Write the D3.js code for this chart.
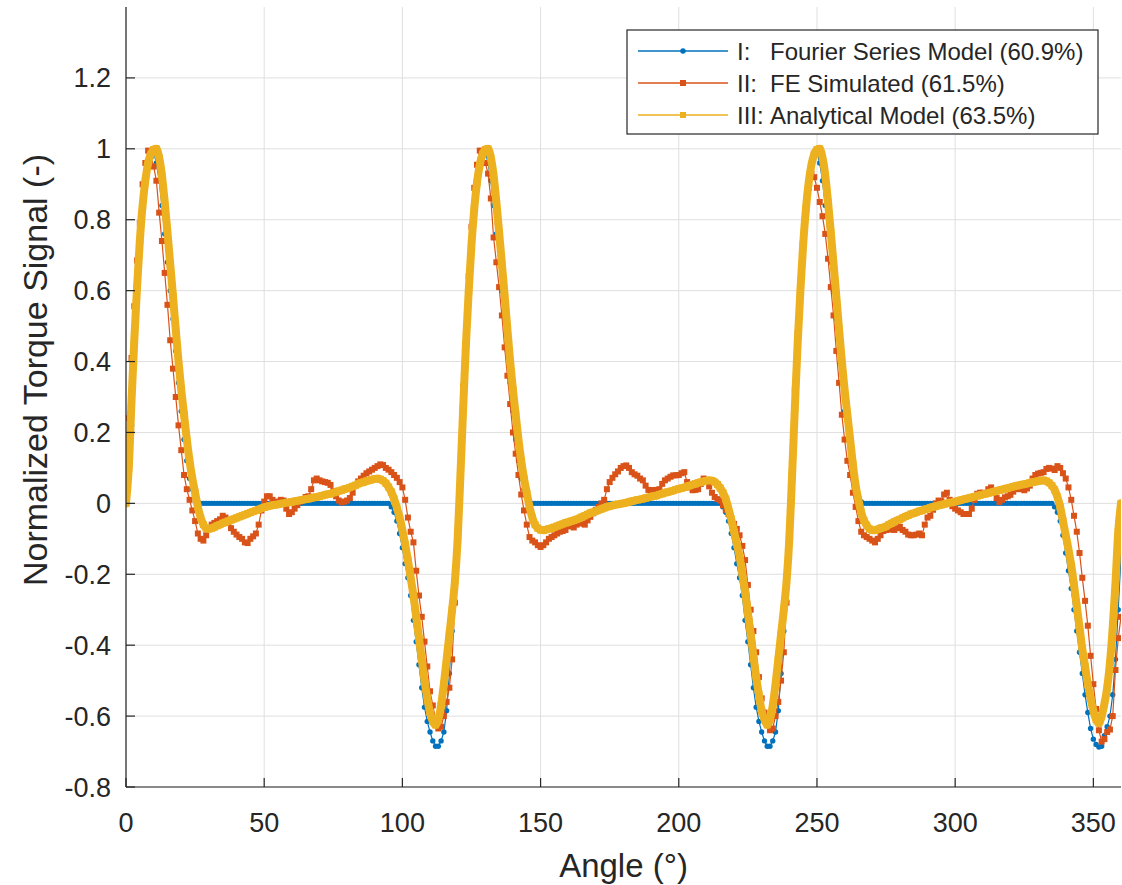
<!DOCTYPE html>
<html><head><meta charset="utf-8">
<script src="https://cdn.jsdelivr.net/npm/d3@7"></script>
<style>
html,body{margin:0;padding:0;background:#fff;}
svg{display:block;font-family:"Liberation Sans",Arial,Helvetica,sans-serif;}
</style>
</head><body>
<svg id="chart" width="1122" height="885"></svg>
<script>
// ---------------- data ----------------
const angles = d3.range(0, 361); // degrees, 1° steps

const fourierModel = [
  0, 0.08, 0.22, 0.42, 0.57, 0.71, 0.82, 0.90, 0.955, 0.99, 0.99, 0.96, 0.91, 0.84, 0.76, 0.68, 0.60, 0.52, 0.43, 0.34, 0.26, 0.18, 0.12, 0.07, 0.04, 0.02, 0.005,
  0,0,0,0,0,0,0,0,0,0,0,0,0,0,0,0,0,0,0,0,0,0,0,
  0,0,0,0,0,0,0,0,0,0,0,0,0,0,0,0,0,0,0,0,0,0,0,
  0,0,0,0,0,0,0,0,0,0,0,0,0,0,0,0,0,0,0,0,0,0,0,
  -0.01, -0.025, -0.05, -0.085, -0.125, -0.17, -0.21, -0.26, -0.33, -0.39, -0.455, -0.52, -0.575, -0.615, -0.645, -0.67, -0.685, -0.685, -0.67, -0.645, -0.585, -0.48, -0.36, -0.22, -0.07,
  0.08, 0.22, 0.42, 0.57, 0.71, 0.82, 0.90, 0.955, 0.99, 0.99, 0.96, 0.91, 0.84, 0.76, 0.68, 0.60, 0.52, 0.43, 0.34, 0.26, 0.18, 0.12, 0.07, 0.04, 0.02, 0.005,
  0,0,0,0,0,0,0,0,0,0,0,0,0,0,0,0,0,0,0,0,0,0,0,
  0,0,0,0,0,0,0,0,0,0,0,0,0,0,0,0,0,0,0,0,0,0,0,
  0,0,0,0,0,0,0,0,0,0,0,0,0,0,0,0,0,0,0,0,0,0,0,
  -0.01, -0.025, -0.05, -0.085, -0.125, -0.17, -0.21, -0.26, -0.33, -0.39, -0.455, -0.52, -0.575, -0.615, -0.645, -0.67, -0.685, -0.685, -0.67, -0.645, -0.585, -0.48, -0.36, -0.22, -0.07,
  0.08, 0.22, 0.42, 0.57, 0.71, 0.82, 0.90, 0.955, 0.99, 0.99, 0.96, 0.91, 0.84, 0.76, 0.68, 0.60, 0.52, 0.43, 0.34, 0.26, 0.18, 0.12, 0.07, 0.04, 0.02, 0.005,
  0,0,0,0,0,0,0,0,0,0,0,0,0,0,0,0,0,0,0,0,0,0,0,
  0,0,0,0,0,0,0,0,0,0,0,0,0,0,0,0,0,0,0,0,0,0,0,
  0,0,0,0,0,0,0,0,0,0,0,0,0,0,0,0,0,0,0,0,0,0,0,
  -0.01, -0.025, -0.05, -0.09, -0.14, -0.19, -0.24, -0.30, -0.36, -0.42, -0.48, -0.54, -0.59, -0.635, -0.665, -0.68, -0.687, -0.685, -0.655, -0.63, -0.60, -0.54, -0.44, -0.30, -0.15
];

const feSimulated = [
  0.06, 0.24, 0.41, 0.556, 0.685, 0.79, 0.90, 0.96, 0.995, 0.98,
  0.95, 0.91, 0.82, 0.74, 0.65, 0.56, 0.46, 0.38, 0.30, 0.22,
  0.15, 0.08, 0.04, 0.01, -0.02, -0.05, -0.085, -0.10, -0.105, -0.09,
  -0.07, -0.06, -0.055, -0.05, -0.045, -0.035, -0.04, -0.055, -0.07, -0.08,
  -0.088, -0.095, -0.10, -0.11, -0.112, -0.10, -0.093, -0.085, -0.06, -0.02,
  0.005, 0.02, 0.02, 0.01, 0.004, 0.005, 0.01, 0.008, -0.015, -0.03,
  -0.025, -0.015, -0.005, 0.005, 0.01, 0.018, 0.02, 0.04, 0.065, 0.07,
  0.065, 0.062, 0.06, 0.058, 0.052, 0.035, 0.02, 0.008, 0.003, 0.005,
  0.008, 0.015, 0.03, 0.05, 0.062, 0.07, 0.078, 0.085, 0.09, 0.095,
  0.10, 0.105, 0.11, 0.108, 0.10, 0.095, 0.088, 0.08, 0.072, 0.06,
  0.045, 0.01, -0.04, -0.08, -0.11, -0.19, -0.26, -0.32, -0.39, -0.46,
  -0.53, -0.57, -0.61, -0.635, -0.63, -0.60, -0.56, -0.52, -0.44, -0.28,
  -0.08, 0.10, 0.33, 0.48, 0.64, 0.78, 0.89, 0.955, 0.995, 0.99,
  0.96, 0.93, 0.86, 0.75, 0.68, 0.61, 0.53, 0.44, 0.36, 0.28,
  0.20, 0.14, 0.08, 0.025, -0.02, -0.06, -0.095, -0.105, -0.11, -0.118,
  -0.123, -0.118, -0.11, -0.10, -0.095, -0.09, -0.085, -0.08, -0.078, -0.075,
  -0.065, -0.062, -0.068, -0.06, -0.053, -0.057, -0.06, -0.048, -0.038, -0.028,
  -0.018, -0.01, 0.0, 0.01, 0.04, 0.06, 0.072, 0.082, 0.09, 0.10,
  0.105, 0.107, 0.10, 0.088, 0.082, 0.078, 0.07, 0.065, 0.05, 0.038,
  0.037, 0.037, 0.038, 0.04, 0.055, 0.065, 0.07, 0.075, 0.079, 0.079,
  0.08, 0.085, 0.088, 0.06, 0.045, 0.037, 0.038, 0.04, 0.055, 0.07,
  0.065, 0.048, 0.03, 0.018, 0.012, 0.008, -0.005, -0.018, -0.03, -0.045,
  -0.058, -0.072, -0.09, -0.12, -0.16, -0.23, -0.30, -0.36, -0.42, -0.49,
  -0.55, -0.59, -0.62, -0.64, -0.635, -0.60, -0.56, -0.50, -0.42, -0.28,
  -0.08, 0.12, 0.32, 0.48, 0.62, 0.74, 0.83, 0.89, 0.93, 0.92,
  0.89, 0.85, 0.81, 0.76, 0.69, 0.61, 0.53, 0.43, 0.34, 0.25,
  0.18, 0.12, 0.08, 0.03, -0.01, -0.05, -0.08, -0.09, -0.095, -0.10,
  -0.105, -0.11, -0.10, -0.09, -0.078, -0.075, -0.073, -0.074, -0.075, -0.07,
  -0.066, -0.075, -0.08, -0.088, -0.09, -0.09, -0.088, -0.085, -0.09, -0.06,
  -0.04, -0.035, -0.018, 0.0, 0.008, 0.006, 0.025, 0.03, 0.01, -0.008,
  -0.015, -0.02, -0.025, -0.03, -0.03, -0.03, -0.015, 0.01, 0.027, 0.03,
  0.03, 0.027, 0.04, 0.045, 0.03, 0.015, 0.004, 0.01, 0.017, 0.02,
  0.024, 0.033, 0.04, 0.046, 0.04, 0.037, 0.042, 0.05, 0.07, 0.08,
  0.084, 0.086, 0.088, 0.097, 0.10, 0.098, 0.094, 0.105, 0.10, 0.085,
  0.07, 0.045, 0.01, -0.035, -0.08, -0.14, -0.21, -0.275, -0.345, -0.43,
  -0.51, -0.58, -0.64, -0.672, -0.665, -0.645, -0.638, -0.60, -0.47, -0.38,
  -0.32
];

const analyticalModel = [
  0.0, 0.10, 0.29, 0.46, 0.61, 0.74, 0.84, 0.91, 0.96, 0.985,
  0.998, 1.0, 0.975, 0.925, 0.85, 0.765, 0.675, 0.585, 0.49, 0.40,
  0.32, 0.25, 0.18, 0.12, 0.07, 0.03, -0.01, -0.04, -0.06, -0.07,
  -0.072, -0.07, -0.067, -0.063, -0.06, -0.056, -0.053, -0.05, -0.047, -0.044,
  -0.041, -0.038, -0.035, -0.032, -0.029, -0.026, -0.023, -0.02, -0.017, -0.014,
  -0.011, -0.009, -0.007, -0.005, -0.004, -0.003, -0.001, 0.0, 0.002, 0.003,
  0.004, 0.006, 0.007, 0.009, 0.01, 0.012, 0.013, 0.015, 0.017, 0.018,
  0.02, 0.022, 0.024, 0.026, 0.027, 0.03, 0.032, 0.035, 0.037, 0.04,
  0.042, 0.045, 0.048, 0.051, 0.055, 0.058, 0.06, 0.063, 0.065, 0.067,
  0.069, 0.07, 0.068, 0.064, 0.057, 0.046, 0.032, 0.012, -0.012, -0.04,
  -0.075, -0.115, -0.16, -0.21, -0.26, -0.32, -0.38, -0.44, -0.50, -0.55,
  -0.59, -0.615, -0.625, -0.61, -0.57, -0.51, -0.44, -0.37, -0.30, -0.22,
  -0.10, 0.08, 0.27, 0.45, 0.60, 0.73, 0.83, 0.905, 0.955, 0.985,
  0.998, 1.0, 0.975, 0.925, 0.85, 0.765, 0.675, 0.585, 0.49, 0.40,
  0.32, 0.25, 0.18, 0.12, 0.07, 0.03, -0.01, -0.04, -0.06, -0.07,
  -0.075, -0.076, -0.074, -0.072, -0.07, -0.067, -0.064, -0.061, -0.058, -0.055,
  -0.053, -0.05, -0.048, -0.045, -0.042, -0.038, -0.035, -0.031, -0.027, -0.025,
  -0.022, -0.019, -0.016, -0.013, -0.01, -0.008, -0.006, -0.004, -0.003, -0.001,
  0.0, 0.002, 0.004, 0.006, 0.008, 0.01, 0.011, 0.013, 0.015, 0.017,
  0.019, 0.021, 0.022, 0.025, 0.027, 0.03, 0.032, 0.034, 0.036, 0.039,
  0.041, 0.043, 0.045, 0.048, 0.05, 0.053, 0.055, 0.058, 0.06, 0.062,
  0.064, 0.065, 0.064, 0.06, 0.053, 0.043, 0.03, 0.012, -0.015, -0.045,
  -0.08, -0.115, -0.15, -0.20, -0.25, -0.31, -0.37, -0.43, -0.49, -0.54,
  -0.585, -0.61, -0.625, -0.61, -0.57, -0.51, -0.44, -0.37, -0.30, -0.22,
  -0.10, 0.08, 0.27, 0.45, 0.60, 0.73, 0.83, 0.905, 0.955, 0.985,
  0.998, 1.0, 0.975, 0.925, 0.85, 0.765, 0.675, 0.585, 0.49, 0.40,
  0.32, 0.25, 0.18, 0.11, 0.05, 0.01, -0.025, -0.048, -0.062, -0.072,
  -0.076, -0.076, -0.073, -0.07, -0.068, -0.065, -0.06, -0.056, -0.052, -0.048,
  -0.045, -0.041, -0.037, -0.034, -0.03, -0.028, -0.025, -0.022, -0.02, -0.017,
  -0.015, -0.012, -0.01, -0.008, -0.006, -0.004, -0.002, 0.0, 0.002, 0.003,
  0.005, 0.007, 0.009, 0.011, 0.013, 0.015, 0.017, 0.019, 0.021, 0.023,
  0.025, 0.027, 0.029, 0.031, 0.033, 0.035, 0.037, 0.039, 0.041, 0.043,
  0.045, 0.047, 0.049, 0.051, 0.053, 0.054, 0.056, 0.058, 0.06, 0.061,
  0.063, 0.064, 0.065, 0.063, 0.058, 0.05, 0.038, 0.018, -0.01, -0.05,
  -0.09, -0.13, -0.175, -0.23, -0.29, -0.35, -0.41, -0.46, -0.51, -0.55,
  -0.585, -0.61, -0.62, -0.60, -0.565, -0.52, -0.45, -0.35, -0.226, -0.08,
  0.0
];

const legendPrefixes = ["I:", "II:", "III:"];
const legendNames = ["Fourier Series Model (60.9%)", "FE Simulated (61.5%)", "Analytical Model (63.5%)"];
const xTicks = [0, 50, 100, 150, 200, 250, 300, 350];
const yTicks = [-0.8, -0.6, -0.4, -0.2, 0, 0.2, 0.4, 0.6, 0.8, 1, 1.2];
const xLabel = "Angle (°)";
const yLabel = "Normalized Torque Signal (-)";

(function draw() {
  const pLeft = 126, pRight = 1121, pTop = 7, pBottom = 787;
  const textColor = "#262626";
  const colors = ["#0072BD", "#D95319", "#EDB120"];

  const svg = d3.select("#chart");
  const x = d3.scaleLinear().domain([0, 360]).range([pLeft, pRight]);
  const y = d3.scaleLinear().domain([-0.8, 1.4]).range([pBottom, pTop]);

  svg.append("defs").append("clipPath").attr("id", "plotclip")
    .append("rect").attr("x", pLeft).attr("y", pTop).attr("width", pRight - pLeft).attr("height", pBottom - pTop);

  // grid
  const grid = svg.append("g");
  grid.selectAll("line.gx").data(xTicks).join("line")
    .attr("x1", d => x(d)).attr("x2", d => x(d)).attr("y1", pTop).attr("y2", pBottom)
    .attr("stroke", "#dfdfdf").attr("stroke-width", 1);
  grid.selectAll("line.gy").data(yTicks).join("line")
    .attr("x1", pLeft).attr("x2", pRight).attr("y1", d => y(d)).attr("y2", d => y(d))
    .attr("stroke", "#dfdfdf").attr("stroke-width", 1);

  const n = Math.min(angles.length, fourierModel.length, feSimulated.length, analyticalModel.length);
  const pts = arr => d3.range(n).map(i => [angles[i], arr[i]]);
  const line = d3.line().x(d => x(d[0])).y(d => y(d[1]));
  const plot = svg.append("g").attr("clip-path", "url(#plotclip)");

  // I: Fourier (blue, dots)
  const sBlue = pts(fourierModel);
  plot.append("path").attr("d", line(sBlue)).attr("fill", "none")
    .attr("stroke", colors[0]).attr("stroke-width", 1.2);
  plot.append("g").selectAll("circle").data(sBlue).join("circle")
    .attr("cx", d => x(d[0])).attr("cy", d => y(d[1])).attr("r", 2.7).attr("fill", colors[0]);

  // II: FE simulated (red, squares)
  const sRed = pts(feSimulated);
  plot.append("path").attr("d", line(sRed)).attr("fill", "none")
    .attr("stroke", colors[1]).attr("stroke-width", 1.2);
  plot.append("g").selectAll("rect").data(sRed).join("rect")
    .attr("x", d => x(d[0]) - 3).attr("y", d => y(d[1]) - 3).attr("width", 6).attr("height", 6)
    .attr("fill", colors[1]);

  // III: Analytical (yellow, thick)
  const sYel = pts(analyticalModel);
  plot.append("path").attr("d", d3.line().curve(d3.curveMonotoneX).x(d => x(d[0])).y(d => y(d[1]))(sYel))
    .attr("fill", "none").attr("stroke", colors[2]).attr("stroke-width", 8)
    .attr("stroke-linejoin", "round").attr("stroke-linecap", "round");
  plot.append("g").selectAll("rect").data(sYel).join("rect")
    .attr("x", d => x(d[0]) - 3.5).attr("y", d => y(d[1]) - 3.5).attr("width", 7).attr("height", 7)
    .attr("fill", colors[2]);

  // axes
  const ax = svg.append("g").attr("stroke", textColor).attr("stroke-width", 1.2);
  ax.append("line").attr("x1", pLeft).attr("x2", pLeft).attr("y1", pTop).attr("y2", pBottom);
  ax.append("line").attr("x1", pLeft).attr("x2", pRight).attr("y1", pBottom).attr("y2", pBottom);
  ax.selectAll("line.tx").data(xTicks).join("line")
    .attr("x1", d => x(d)).attr("x2", d => x(d)).attr("y1", pBottom).attr("y2", pBottom - 9);
  ax.selectAll("line.ty").data(yTicks).join("line")
    .attr("x1", pLeft).attr("x2", pLeft + 9).attr("y1", d => y(d)).attr("y2", d => y(d));

  // tick labels
  svg.append("g").selectAll("text").data(xTicks).join("text")
    .attr("x", d => x(d)).attr("y", pBottom + 45)
    .attr("text-anchor", "middle").attr("font-size", 27).attr("fill", textColor)
    .text(d => d);
  svg.append("g").selectAll("text").data(yTicks).join("text")
    .attr("x", pLeft - 15).attr("y", d => y(d) + 9.5)
    .attr("text-anchor", "end").attr("font-size", 27).attr("fill", textColor)
    .text(d => d3.format("~g")(d).replace("\u2212", "-"));

  // axis labels
  svg.append("text").attr("x", (pLeft + pRight) / 2).attr("y", 877)
    .attr("text-anchor", "middle").attr("font-size", 33).attr("fill", textColor).text(xLabel);
  svg.append("text").attr("transform", `translate(47,370) rotate(-90)`)
    .attr("text-anchor", "middle").attr("font-size", 34).attr("fill", textColor).text(yLabel);

  // legend
  const lg = svg.append("g");
  lg.append("rect").attr("x", 627).attr("y", 30).attr("width", 471).attr("height", 104)
    .attr("fill", "#fff").attr("stroke", textColor).attr("stroke-width", 1.2);
  const rowsY = [51, 83, 115];
  legendNames.forEach((name, i) => {
    const g = lg.append("g");
    g.append("line").attr("x1", 638).attr("x2", 728).attr("y1", rowsY[i]).attr("y2", rowsY[i])
      .attr("stroke", colors[i]).attr("stroke-width", 1.5);
    if (i === 0) {
      g.append("circle").attr("cx", 683).attr("cy", rowsY[i]).attr("r", 2.7).attr("fill", colors[i]);
    } else {
      g.append("rect").attr("x", 680).attr("y", rowsY[i] - 3).attr("width", 6).attr("height", 6).attr("fill", colors[i]);
    }
    g.append("text").attr("x", 737).attr("y", rowsY[i] + 8.5).attr("font-size", 24).attr("fill", textColor).text(legendPrefixes[i]);
    g.append("text").attr("x", 770).attr("y", rowsY[i] + 8.5).attr("font-size", 24).attr("fill", textColor).text(name);
  });
})();
</script>
</body></html>
